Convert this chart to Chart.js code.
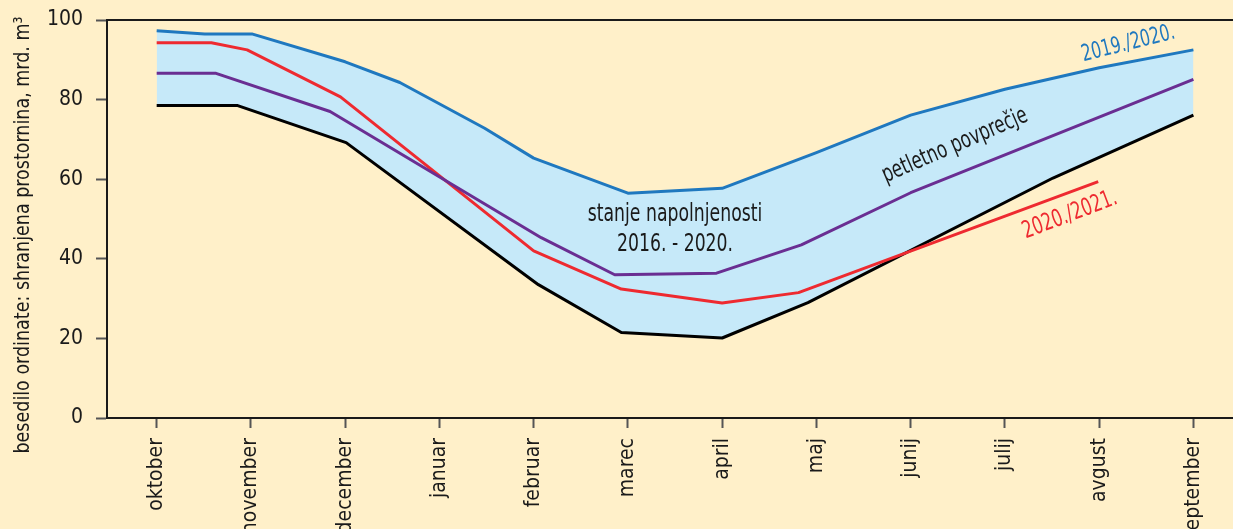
<!DOCTYPE html>
<html>
<head>
<meta charset="utf-8">
<script src="https://cdn.jsdelivr.net/npm/chart.js@4.4.1/dist/chart.umd.min.js"></script>
<style>
  html, body { margin: 0; padding: 0; background: #fff0c9; }
  canvas { display: block; }
</style>
</head>
<body>
<canvas id="storageChart" width="1233" height="529"></canvas>
<script>
const months = ['oktober', 'november', 'december', 'januar', 'februar', 'marec',
  'april', 'maj', 'junij', 'julij', 'avgust', 'september'];

// x = month index (0 = oktober); fractional values lie between month ticks
const maxX = [0, 0.51, 1.01, 2, 2.58, 3.48, 4, 5, 6, 7, 8, 9, 10, 11];
const maxY = [97.3, 96.5, 96.5, 89.5, 84.3, 72.8, 65.3, 56.5, 57.7, 66.7, 76.1, 82.6, 88.0, 92.5];

const minX = [0, 0.86, 2.01, 4.05, 4.93, 6, 6.91, 9.51, 11];
const minY = [78.5, 78.5, 69.2, 33.5, 21.5, 20.1, 29.0, 60.3, 76.1];

const avgX = [0, 0.63, 1.84, 4.08, 4.86, 5.94, 6.84, 8, 11];
const avgY = [86.6, 86.6, 77.0, 45.3, 36.0, 36.4, 43.5, 56.6, 85.1];

const curX = [0, 0.58, 0.96, 1.95, 4, 4.93, 6, 6.81, 9.99];
const curY = [94.3, 94.3, 92.5, 80.7, 42.0, 32.4, 28.9, 31.5, 59.4];

const yTicks = [0, 20, 40, 60, 80, 100];
const yTitle = 'besedilo ordinate: shranjena prostornina, mrd. m³';

const FONT = "'Liberation Sans Narrow', 'DejaVu Sans Condensed', 'Roboto', sans-serif";
const BLUE = '#1f78bf';
const RED = '#ee2a30';
const PURPLE = '#6a2e92';
const INK = '#1a1a1a';

function points(xs, ys) {
  return xs.map((x, i) => ({ x: x, y: ys[i] }));
}

// labels placed in data coordinates (month index, value); squeeze narrows the glyphs
const notes = [
  { text: '2019./2020.', x: 10.31, y: 94.0, angle: -14, color: BLUE, size: 23, squeeze: 0.76 },
  { text: 'petletno povprečje', x: 8.47, y: 68.4, angle: -23.4, color: INK, size: 24, squeeze: 0.77 },
  { text: '2020./2021.', x: 9.69, y: 51.0, angle: -20.8, color: RED, size: 24, squeeze: 0.76 },
  { text: 'stanje napolnjenosti', x: 5.5, y: 51.0, angle: 0, color: INK, size: 24, squeeze: 0.8 },
  { text: '2016. - 2020.', x: 5.5, y: 43.5, angle: 0, color: INK, size: 24, squeeze: 0.8 }
];

const notesPlugin = {
  id: 'notes',
  afterDatasetsDraw(chart) {
    const ctx = chart.ctx;
    const xs = chart.scales.x, ys = chart.scales.y;
    ctx.save();
    notes.forEach(n => {
      ctx.save();
      ctx.translate(xs.getPixelForValue(n.x), ys.getPixelForValue(n.y));
      ctx.rotate(n.angle * Math.PI / 180);
      ctx.scale(n.squeeze, 1);
      ctx.font = n.size + 'px ' + FONT;
      ctx.fillStyle = n.color;
      ctx.textAlign = 'center';
      ctx.textBaseline = 'middle';
      ctx.fillText(n.text, 0, 0);
      ctx.restore();
    });
    // top frame line
    const area = chart.chartArea;
    ctx.strokeStyle = INK;
    ctx.lineWidth = 2;
    ctx.beginPath();
    ctx.moveTo(area.left, area.top);
    ctx.lineTo(chart.width, area.top);
    ctx.stroke();
    // y axis title
    ctx.translate(23, 235);
    ctx.rotate(-Math.PI / 2);
    ctx.scale(0.885, 1);
    ctx.font = '22px ' + FONT;
    ctx.fillStyle = INK;
    ctx.textAlign = 'center';
    ctx.textBaseline = 'middle';
    ctx.fillText(yTitle, 0, 0);
    ctx.restore();
  }
};

const line = (label, xs, ys, color) => ({
  label: label,
  data: points(xs, ys),
  borderColor: color,
  borderWidth: 3,
  pointRadius: 0,
  tension: 0,
  borderJoinStyle: 'round',
  fill: false
});

const maxSet = line('2019./2020.', maxX, maxY, BLUE);
maxSet.fill = 3;
maxSet.backgroundColor = '#c6e9f9';

new Chart(document.getElementById('storageChart'), {
  type: 'line',
  data: {
    datasets: [
      maxSet,
      line('petletno povprečje', avgX, avgY, PURPLE),
      line('2020./2021.', curX, curY, RED),
      line('minimum 2016. - 2020.', minX, minY, '#000000')
    ]
  },
  options: {
    responsive: false,
    animation: false,
    layout: { padding: { top: 20, left: 0, right: 0, bottom: 0 } },
    plugins: {
      legend: { display: false },
      tooltip: { enabled: false },
      filler: { drawTime: 'beforeDatasetsDraw' }
    },
    scales: {
      x: {
        type: 'linear',
        min: -0.527,
        max: 11.42,
        afterBuildTicks: s => { s.ticks = months.map((m, i) => ({ value: i })); },
        afterFit: s => { s.height = 111; },
        grid: { drawOnChartArea: false, tickLength: 10, tickWidth: 2, tickColor: '#555' },
        border: { color: INK, width: 2 },
        ticks: {
          autoSkip: false,
          minRotation: 90,
          maxRotation: 90,
          padding: 10,
          color: INK,
          font: { family: FONT, size: 21 },
          callback: v => months[v]
        }
      },
      y: {
        min: 0,
        max: 100,
        afterBuildTicks: s => { s.ticks = yTicks.map(v => ({ value: v })); },
        afterFit: s => { s.width = 107; s.paddingTop = 12; s.paddingBottom = 12; },
        grid: { drawOnChartArea: false, tickLength: 11, tickWidth: 2, tickColor: '#555' },
        border: { color: INK, width: 2 },
        ticks: {
          padding: 13,
          color: INK,
          font: { family: FONT, size: 21 }
        }
      }
    }
  },
  plugins: [notesPlugin]
});
</script>
</body>
</html>
